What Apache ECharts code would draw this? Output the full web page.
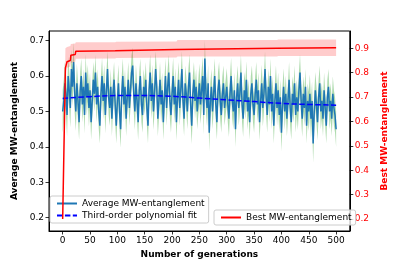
<!DOCTYPE html>
<html><head><meta charset="utf-8">
<script src="https://cdn.jsdelivr.net/npm/echarts@6/dist/echarts.min.js"></script>
<style>html,body{margin:0;padding:0;background:#fff}#c{width:397px;height:264px}</style>
</head><body><div id="c"></div>
<script>
// Average MW-entanglement, one value every 2 generations (0..500)
const avgStep = 2;
const avgValues = [
0.50,0.53,0.58,0.55,0.49,0.60,0.56,0.51,0.62,0.57,0.64,0.55,0.50,0.58,0.53,0.47,0.56,0.60,0.52,0.57,0.49,0.61,0.54,0.58,0.51,
0.56,0.47,0.53,0.59,0.55,0.61,0.52,0.57,0.50,0.46,0.55,0.60,0.53,0.58,0.49,0.56,0.62,0.54,0.51,0.57,0.48,0.55,0.59,0.52,0.46,
0.53,0.58,0.50,0.45,0.55,0.60,0.52,0.57,0.48,0.54,0.59,0.51,0.56,0.61,0.63,0.55,0.50,0.58,0.53,0.47,0.56,0.60,0.52,0.49,0.57,
0.54,0.59,0.51,0.46,0.56,0.61,0.53,0.58,0.50,0.55,0.62,0.57,0.48,0.53,0.59,0.52,0.56,0.47,0.54,0.60,0.51,0.57,0.61,0.53,0.49,
0.55,0.60,0.52,0.57,0.47,0.54,0.59,0.51,0.56,0.62,0.53,0.48,0.58,0.55,0.50,0.57,0.61,0.52,0.46,0.55,0.59,0.53,0.57,0.50,0.54,
0.58,0.52,0.56,0.60,0.49,0.65,0.55,0.51,0.58,0.44,0.53,0.57,0.50,0.55,0.60,0.52,0.47,0.56,0.59,0.53,0.49,0.55,0.58,0.51,0.54,
0.57,0.52,0.48,0.55,0.60,0.53,0.50,0.56,0.45,0.54,0.58,0.51,0.55,0.61,0.52,0.48,0.56,0.53,0.59,0.50,0.54,0.47,0.55,0.58,0.52,
0.49,0.55,0.59,0.52,0.56,0.47,0.53,0.58,0.51,0.55,0.62,0.54,0.49,0.57,0.52,0.60,0.50,0.55,0.46,0.53,0.58,0.51,0.56,0.49,0.54,
0.44,0.52,0.57,0.50,0.55,0.48,0.53,0.59,0.51,0.47,0.55,0.52,0.58,0.49,0.54,0.50,0.56,0.61,0.53,0.48,0.55,0.51,0.57,0.46,0.53,
0.50,0.55,0.48,0.53,0.41,0.50,0.56,0.52,0.47,0.54,0.58,0.50,0.53,0.48,0.56,0.51,0.46,0.54,0.57,0.50,0.53,0.48,0.55,0.51,0.49,
0.45
];
// spread of the average (one value per 10 generations)
const avgStd = [
0.060,0.055,0.055,0.050,0.052,0.050,0.050,0.052,0.050,0.050,
0.052,0.050,0.050,0.052,0.050,0.050,0.052,0.050,0.050,0.050,
0.052,0.050,0.050,0.052,0.050,0.055,0.052,0.050,0.050,0.050,
0.052,0.050,0.050,0.052,0.050,0.050,0.052,0.050,0.050,0.050,
0.052,0.050,0.050,0.052,0.050,0.055,0.052,0.050,0.050,0.050,0.050
];
const fitGens = [0,50,100,150,200,250,300,350,400,450,500];
const fitValues = [0.537,0.542,0.545,0.545,0.543,0.538,0.533,0.528,0.523,0.520,0.518];
const bestGens = [0,5,8,14,15,23,24,96,98,208,210,392,394,500];
const bestValues = [0.20,0.82,0.845,0.85,0.872,0.875,0.888,0.89,0.893,0.895,0.90,0.90,0.902,0.902];
const bestLow  = [0.20,0.80,0.82,0.825,0.84,0.845,0.857,0.858,0.86,0.862,0.866,0.866,0.868,0.868];
const bestHigh = [0.20,0.90,0.905,0.91,0.918,0.92,0.925,0.925,0.927,0.928,0.934,0.934,0.936,0.936];
const xTicks = [0,50,100,150,200,250,300,350,400,450,500];
const leftTicks = [0.2,0.3,0.4,0.5,0.6,0.7];
const rightTicks = [0.2,0.3,0.4,0.5,0.6,0.7,0.8,0.9];

const FONT = 'DejaVu Sans';
const avgData = avgValues.map((v,i)=>[i*avgStep, v]);
const avgLow = avgValues.map((v,i)=>v - avgStd[Math.floor(i*avgStep/10)]);
const avgHigh = avgValues.map((v,i)=>v + avgStd[Math.floor(i*avgStep/10)]);
const avgGens = avgValues.map((v,i)=>i*avgStep);

function band(xs, lo, hi, color, yIdx, z){
  return {
    type:'custom', yAxisIndex:yIdx, z:z, silent:true, clip:true,
    data:[[xs[0], lo[0]]],
    renderItem:function(params, api){
      const pts=[];
      for(let i=0;i<xs.length;i++) pts.push(api.coord([xs[i],hi[i]]));
      for(let i=xs.length-1;i>=0;i--) pts.push(api.coord([xs[i],lo[i]]));
      return {type:'polygon', shape:{points:pts}, style:{fill:color, stroke:null}};
    }
  };
}

const chart = echarts.init(document.getElementById('c'), null, {renderer:'canvas'});
const tickStyle = {show:true, inside:false, length:3.5, lineStyle:{color:'#000', width:0.8}};
const legendCommon = {
  itemWidth:20, itemHeight:10,
  itemStyle:{opacity:0, borderWidth:0},
  backgroundColor:'rgba(255,255,255,0.8)', borderColor:'#cccccc', borderWidth:1, borderRadius:2,
  padding:[3,4,3,6],
  textStyle:{fontFamily:FONT, fontSize:9, color:'#000'}
};
chart.setOption({
  animation:false,
  backgroundColor:'#fff',
  grid:{left:49, right:40, top:31, bottom:33, show:true, borderColor:'#000', borderWidth:1},
  xAxis:{
    type:'value', min:-25, max:525,
    name:'Number of generations', nameLocation:'middle', nameGap:18,
    nameTextStyle:{fontFamily:FONT, fontSize:9, fontWeight:'bold', color:'#000'},
    axisLine:{show:true, onZero:false, lineStyle:{color:'#000', width:1}},
    axisTick:Object.assign({customValues:xTicks}, tickStyle),
    axisLabel:{customValues:xTicks, fontFamily:FONT, fontSize:9, color:'#000', margin:5, formatter:v=>String(v)},
    splitLine:{show:false}
  },
  yAxis:[{
    type:'value', min:0.1625, max:0.7275, position:'left',
    name:'Average MW-entanglement', nameLocation:'middle', nameGap:24,
    nameTextStyle:{fontFamily:FONT, fontSize:9, fontWeight:'bold', color:'#000'},
    axisLine:{show:true, onZero:false, lineStyle:{color:'#000', width:1}},
    axisTick:Object.assign({customValues:leftTicks}, tickStyle),
    axisLabel:{customValues:leftTicks, fontFamily:FONT, fontSize:9, color:'#000', margin:5, formatter:v=>v.toFixed(1)},
    splitLine:{show:false}
  },{
    type:'value', min:0.151, max:0.971, position:'right',
    name:'Best MW-entanglement', nameLocation:'middle', nameGap:24,
    nameTextStyle:{fontFamily:FONT, fontSize:9, fontWeight:'bold', color:'#ff0000'},
    axisLine:{show:true, onZero:false, lineStyle:{color:'#000', width:1}},
    axisTick:Object.assign({customValues:rightTicks}, tickStyle),
    axisLabel:{customValues:rightTicks, fontFamily:FONT, fontSize:9, color:'#ff0000', margin:5, formatter:v=>v.toFixed(1)},
    splitLine:{show:false}
  }],
  legend:[Object.assign({
    orient:'vertical', left:50, top:196, itemGap:3,
    data:['Average MW-entanglement','Third-order polynomial fit']
  }, legendCommon), Object.assign({
    orient:'vertical', left:214, top:210,
    data:['Best MW-entanglement']
  }, legendCommon)],
  series:[
    band(avgGens, avgLow, avgHigh, 'rgba(44,160,44,0.38)', 0, 1),
    {name:'Average MW-entanglement', type:'line', yAxisIndex:0, z:2, data:avgData,
     symbol:'none', showSymbol:false, lineStyle:{color:'#1f77b4', width:1.5}, itemStyle:{color:'#1f77b4'}},
    {name:'Third-order polynomial fit', type:'line', yAxisIndex:0, z:3, smooth:true,
     data:fitGens.map((g,i)=>[g,fitValues[i]]),
     symbol:'none', showSymbol:false, lineStyle:{color:'#0000ff', width:1.5, type:[5.5,2.4]}, itemStyle:{color:'#0000ff'}},
    band(bestGens, bestLow, bestHigh, 'rgba(255,0,0,0.2)', 1, 4),
    {name:'Best MW-entanglement', type:'line', yAxisIndex:1, z:5,
     data:bestGens.map((g,i)=>[g,bestValues[i]]),
     symbol:'none', showSymbol:false, lineStyle:{color:'#ff0000', width:1.5}, itemStyle:{color:'#ff0000'}}
  ]
});
</script></body></html>
